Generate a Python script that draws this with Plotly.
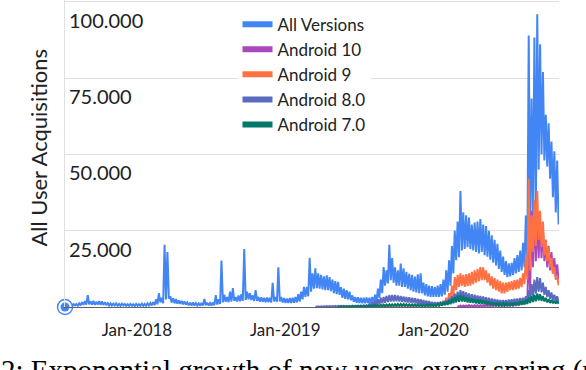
import pandas as pd
import plotly.graph_objects as go

SERIES_NAMES = ["All Versions", "Android 10", "Android 9", "Android 8.0", "Android 7.0"]
SERIES_COLORS = ["#4285f4", "#ab47bc", "#ff7043", "#5c6bc0", "#00796b"]

# weekly envelopes (upper / lower daily values within each week)
ALL_START = "2017-07-08"
ALL_HI = [700, 900, 800, 900, 1000, 1200, 1600, 1900, 3900, 1800,
          2000, 1700, 1900, 1800, 1600, 1300, 1200, 1100, 1200, 1000,
          1100, 1000, 900, 1000, 900, 1000, 900, 1100, 1000, 1200,
          1300, 1600, 2500, 4500, 3000, 20400, 18000, 3500, 2900, 2600,
          2200, 2000, 1800, 1500, 1400, 1500, 1300, 1200, 1300, 2600,
          1400, 1300, 1500, 3900, 2500, 15200, 4000, 3300, 5000, 6200,
          3300, 3800, 4200, 19000, 5000, 4500, 3800, 5500, 3300, 3200,
          3000, 3100, 3000, 7900, 3300, 13000, 3300, 2900, 2800, 2900,
          3000, 3300, 4200, 5000, 6600, 6600, 16100, 11000, 12700, 11000,
          10500, 10000, 10400, 9800, 9000, 8500, 8200, 6500, 6000, 5500,
          5000, 3800, 3300, 3200, 3000, 3000, 3100, 3000, 3300, 4000,
          6000, 9000, 13100, 12000, 20400, 16000, 13000, 12000, 14200, 12700,
          11500, 10900, 10500, 10000, 10700, 11000, 8000, 7500, 7000, 6800,
          6600, 7000, 7500, 9000, 12000, 15300, 20000, 25000, 28000, 38000,
          31000, 30000, 29300, 27000, 27700, 28000, 28800, 27000, 26500, 25000,
          23500, 22000, 20700, 18500, 16500, 15000, 14300, 14500, 16000, 17000,
          18500, 21000, 30000, 88900, 68300, 88300, 95900, 86100, 77000, 63000,
          60200, 54200, 51000, 48000]
ALL_LO = [300, 400, 400, 500, 400, 500, 700, 800, 900, 800,
          700, 800, 700, 700, 600, 500, 500, 500, 400, 400,
          500, 400, 400, 400, 300, 400, 400, 400, 400, 500,
          500, 600, 900, 1500, 1200, 2500, 2800, 1500, 1200, 1100,
          1000, 900, 800, 600, 500, 500, 500, 400, 500, 600,
          500, 500, 600, 800, 1000, 1500, 1700, 1600, 1800, 2000,
          1800, 1900, 2000, 2300, 2500, 2300, 2000, 2000, 1700, 1700,
          1600, 1600, 1500, 1800, 1700, 1800, 1500, 1300, 1300, 1300,
          1400, 1500, 1800, 2500, 3300, 3500, 5000, 6000, 6200, 6000,
          5800, 5500, 5500, 5200, 4500, 4200, 4000, 3000, 2700, 2500,
          2200, 1700, 1400, 1300, 1200, 1200, 1300, 1200, 1300, 1800,
          3000, 4500, 7000, 7700, 8800, 8000, 7000, 7000, 6600, 6600,
          6000, 5500, 5000, 4800, 4500, 4500, 3800, 3500, 3300, 3300,
          3300, 3300, 3500, 4000, 5000, 7000, 11000, 15300, 16300, 18500,
          19000, 19600, 19000, 18500, 18000, 17500, 18000, 17000, 16500, 15500,
          14500, 13600, 12500, 11500, 10500, 9800, 10000, 10500, 11000, 11500,
          12000, 13000, 15000, 25000, 28000, 30000, 45000, 50000, 48000, 46000,
          42000, 36000, 31000, 27000]

A10_START = "2020-02-29"
A10_HI = [400, 500, 500, 500, 600, 500, 600, 600, 600, 600, 700, 700, 700,
          700, 700, 800, 800, 900, 900, 1000,
          1200, 1500, 2300, 2300, 3000, 19600, 31500, 32500, 30000, 28000,
          26000, 22000, 20000, 18000, 16000, 14000]
A10_LO = [100, 100, 150, 150, 200, 150, 200, 200, 200, 200, 200, 200, 250,
          250, 250, 300, 300, 300, 300, 350,
          400, 500, 800, 900, 1200, 5000, 13000, 15000, 16000, 16000,
          15000, 13000, 12000, 11000, 10000, 9000]

A9_START = "2019-07-13"
A9_HI = [300, 300, 400, 400, 500, 500, 500, 550, 550, 600, 600, 600, 600,
         600, 650, 650, 600, 600, 600, 600, 650, 650, 650, 700, 700,
         700, 900, 1300, 2000, 3000, 4500, 7000, 9800, 10500, 11000,
         10500, 10800, 11000, 11500, 12000, 12500, 13100, 13000, 12000, 11000,
         10000, 9500, 9000, 8500, 8000, 8000, 8200, 8500, 8800, 9000,
         9500, 11000, 16300, 42000, 30000, 35000, 38000, 31500, 28000, 22000,
         19600, 16000, 13000, 10000]
A9_LO = [100, 100, 100, 150, 200, 200, 200, 200, 200, 200, 250, 250, 250,
         250, 250, 250, 250, 250, 250, 250, 250, 300, 300, 300, 300,
         300, 400, 600, 900, 1300, 2000, 3500, 5500, 6600, 7000,
         6600, 6800, 7000, 7500, 8000, 8500, 8800, 8800, 8000, 7000,
         6000, 5500, 5000, 4500, 4500, 5000, 5500, 5500, 5800, 6000,
         6500, 7500, 9000, 12000, 18000, 20000, 22000, 19600, 17000, 15000,
         13000, 11000, 9000, 7100]

A8_START = "2019-03-16"
A8_HI = [200, 200, 250, 250, 300, 300, 300, 350, 350, 350, 400, 400, 400,
         450, 450, 500, 500, 550,
         600, 1000, 1500, 2000, 2500, 3000, 3300, 3600, 3900, 3900,
         3900, 3800, 3600, 3400, 3300, 3200, 3000, 2900, 2700, 2500,
         2300, 2100, 1900, 1700, 1600, 1600, 1700, 1900, 2200, 2800,
         3500, 4400, 5000, 5500, 5200, 4800, 4400, 4200, 4000, 3800,
         3600, 3400, 3200, 3000, 2800, 2600, 2400, 2300, 2300, 2300,
         2400, 2500, 2700, 2800, 2900, 3000, 3500, 5500, 7500, 9000,
         9800, 9500, 8000, 6600, 5500, 4800, 4000, 3500]
A8_LO = [50, 50, 50, 80, 80, 100, 100, 100, 120, 120, 150, 150, 150,
         150, 180, 180, 200, 200,
         200, 300, 500, 700, 900, 1200, 1400, 1600, 1800, 1800,
         1900, 1800, 1700, 1600, 1500, 1400, 1300, 1200, 1100, 1000,
         900, 800, 700, 600, 600, 600, 700, 800, 900, 1100,
         1500, 2000, 2600, 2900, 2800, 2500, 2200, 2000, 1900, 1800,
         1700, 1600, 1400, 1300, 1200, 1100, 1000, 900, 900, 900,
         1000, 1100, 1200, 1300, 1300, 1400, 1600, 2500, 3500, 4400,
         5000, 4800, 4000, 3300, 2700, 2200, 1900, 1700]

A7_START = "2019-05-11"
A7_HI = [150, 200, 200, 250, 250, 300, 300, 300, 350, 400,
         450, 500, 550, 600, 650, 700, 750,
         800, 850, 900, 950, 1000, 1000, 1000, 950, 900, 900, 850, 850,
         800, 800, 800, 800, 800, 800,
         1000, 1200, 1500, 1800, 2200, 2800, 3300, 3800, 3900, 3600,
         3300, 3000, 2800, 2600, 2500, 2400, 2200, 2000, 1800, 1600,
         1400, 1300, 1200, 1200, 1200, 1300, 1400, 1500, 1600, 1800,
         2000, 2400, 3000, 3600, 4000, 4400, 4200, 3600, 3000, 2600,
         2300, 2100, 2000]
A7_LO = [50, 50, 50, 80, 80, 100, 100, 100, 120, 150,
         150, 180, 200, 220, 250, 250, 280,
         300, 300, 320, 350, 350, 350, 350, 330, 320, 300, 300, 300,
         280, 280, 280, 280, 300, 300,
         400, 500, 600, 700, 900, 1200, 1500, 1700, 1800, 1700,
         1500, 1400, 1300, 1200, 1100, 1000, 900, 800, 700, 600,
         500, 500, 400, 400, 400, 400, 500, 600, 600, 700,
         800, 1000, 1300, 1600, 1900, 2100, 2000, 1800, 1500, 1300,
         1200, 1100, 1000]

X_TICKS = ["2018-01-01", "2019-01-01", "2020-01-01"]
Y_TICKS = [25000, 50000, 75000, 100000]
Y_TICK_LABELS = ["25.000", "50.000", "75.000", "100.000"]
X_RANGE = ["2017-07-08", "2020-11-04 12:00"]
Y_MAX = 100560
CAPTION = "2: Exponential growth of new users every spring (u"
Y_TITLE = "All User Acquisitions"


def zigzag(start, hi, lo):
    t0 = pd.Timestamp(start)
    xs, ys = [], []
    for i, (h, l) in enumerate(zip(hi, lo)):
        xs += [t0 + pd.Timedelta(days=7 * i), t0 + pd.Timedelta(days=7 * i + 3.5)]
        ys += [h, l]
    return xs, ys


series = [
    (ALL_START, ALL_HI, ALL_LO),
    (A10_START, A10_HI, A10_LO),
    (A9_START, A9_HI, A9_LO),
    (A8_START, A8_HI, A8_LO),
    (A7_START, A7_HI, A7_LO),
]

fig = go.Figure()
for (start, hi, lo), name, color in zip(series, SERIES_NAMES, SERIES_COLORS):
    xs, ys = zigzag(start, hi, lo)
    fig.add_trace(go.Scatter(x=xs, y=ys, mode="lines", name=name,
                             line=dict(color=color, width=2),
                             showlegend=False, hoverinfo="skip"))

# legend swatches
for name, color in zip(SERIES_NAMES, SERIES_COLORS):
    fig.add_trace(go.Scatter(x=[None], y=[None], mode="lines", name=name,
                             line=dict(color=color, width=6)))

# start handle on the first series
fig.add_trace(go.Scatter(x=[ALL_START], y=[0], mode="markers", showlegend=False,
                         cliponaxis=False, hoverinfo="skip",
                         marker=dict(size=15, color="white",
                                     line=dict(color=SERIES_COLORS[0], width=1.5))))
fig.add_trace(go.Scatter(x=[ALL_START], y=[0], mode="markers", showlegend=False,
                         cliponaxis=False, hoverinfo="skip",
                         marker=dict(size=9, color=SERIES_COLORS[0])))

# y tick labels sit just below their grid lines, inside the plot
tick_annotations = [
    dict(text=lab, x=0, xref="paper", xanchor="left", xshift=2,
         y=val, yref="y", yanchor="middle", yshift=-18, showarrow=False,
         font=dict(family="Lato", size=20, color="#202124"))
    for val, lab in zip(Y_TICKS, Y_TICK_LABELS)
]

fig.update_layout(
    width=586, height=370,
    margin=dict(l=65, r=27, t=0, b=63, autoexpand=False),
    paper_bgcolor="white", plot_bgcolor="white",
    font=dict(family="Lato", color="#202124"),
    legend=dict(x=0.3492, y=0.9785, xanchor="left", yanchor="top",
                bgcolor="white", borderwidth=0,
                font=dict(family="Lato", size=17, color="#202124"),
                tracegroupgap=0),
    xaxis=dict(type="date", range=X_RANGE, tickvals=X_TICKS, tickformat="%b-%Y",
               showgrid=False, showline=True, linecolor="#5f6368", linewidth=1,
               ticks="", zeroline=False, ticklabelstandoff=8, automargin=False,
               tickfont=dict(family="Lato", size=17, color="#202124")),
    yaxis=dict(range=[0, Y_MAX], tickvals=Y_TICKS, showticklabels=False,
               showgrid=True, gridcolor="#e0e0e0", gridwidth=1, automargin=False,
               showline=True, linecolor="#e0e0e0", zeroline=False, ticks=""),
    annotations=tick_annotations + [
        dict(text=Y_TITLE, textangle=-90, xref="paper", yref="paper",
             x=-0.0546, y=0.5195, xanchor="center", yanchor="middle",
             showarrow=False, font=dict(family="Lato", size=22, color="#202124")),
        dict(text=CAPTION, xref="paper", yref="paper", x=-0.1335, y=-0.1453,
             xanchor="left", yanchor="top", showarrow=False,
             font=dict(family="Liberation Serif", size=29, color="black")),
    ],
)

fig.write_html("out.html", config={"displayModeBar": False},
               post_script="document.body.style.margin='0px';")
